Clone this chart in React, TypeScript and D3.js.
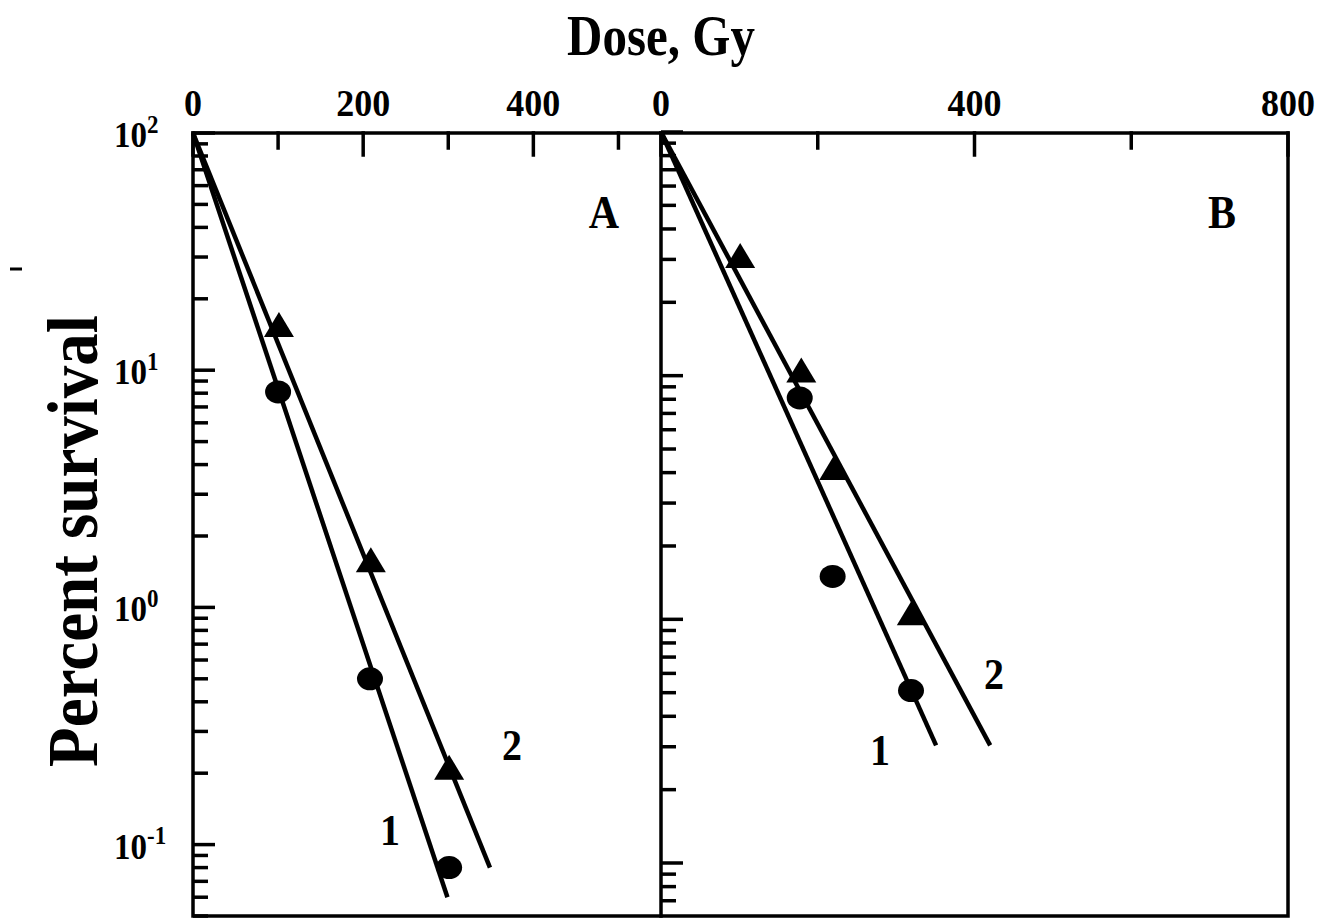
import React, { useRef, useEffect } from "react"
import * as d3 from "d3"

// panel A, curve 1 (circles) and curve 2 (triangles)
const doseA1 = [100, 208, 301]
const survA1 = [8.1, 0.5, 0.08]
const doseA2 = [101, 209, 301]
const survA2 = [15.2, 1.55, 0.207]
const fitDoseA1 = [0, 299]
const fitSurvA1 = [100, 0.06]
const fitDoseA2 = [0, 349]
const fitSurvA2 = [100, 0.08]

// panel B
const doseB1 = [177, 219, 319]
const survB1 = [8.1, 1.5, 0.51]
const doseB2 = [101, 179, 221, 320]
const survB2 = [30.4, 10.3, 4.1, 1.04]
const fitDoseB1 = [0, 351]
const fitSurvB1 = [100, 0.304]
const fitDoseB2 = [0, 420]
const fitSurvB2 = [100, 0.304]

const majorTicksA = [0, 200, 400]
const minorTicksA = [100, 300, 500]
const majorTicksB = [0, 400, 800]
const minorTicksB = [200, 600]
const decadeLabels = [2, 1, 0, -1]

const FONT = "'Liberation Serif', 'Times New Roman', serif"
const STRETCH = 1.12 // the original lettering is a bit taller than it is wide

const App = () => {
  const ref = useRef(null)
  const width = 1322
  const height = 921
  const top = 133
  const bottom = 916

  useEffect(() => {
    if (!ref.current) return
    const svg = d3.select(ref.current)
    svg.selectAll("*").remove()

    const xA = d3.scaleLinear().domain([0, 550]).range([193, 661])
    const xB = d3.scaleLinear().domain([0, 800]).range([661, 1288])
    const yA = d3.scaleLog().domain([0.05, 100]).range([bottom, top])
    const yB = d3.scaleLog().domain([0.0606, 100]).range([bottom, top - 1])

    const g = svg.append("g").attr("stroke-linecap", "square")

    const text = (x, y, s, size, anchor = "middle", stretch = STRETCH) =>
      svg.append("text")
        .attr("transform", `translate(${x},${y}) scale(1,${stretch})`)
        .attr("text-anchor", anchor).attr("font-family", FONT)
        .attr("font-weight", "bold").attr("font-size", size).text(s)

    // frame
    g.append("rect")
      .attr("x", xA(0)).attr("y", top)
      .attr("width", xB(800) - xA(0)).attr("height", bottom - top)
      .attr("fill", "none").attr("stroke", "#000").attr("stroke-width", 3.5)
    g.append("line")
      .attr("x1", xB(0)).attr("x2", xB(0)).attr("y1", top).attr("y2", bottom)
      .attr("stroke", "#000").attr("stroke-width", 3.5)

    // top ticks (inward)
    const topTicks = (x, major, minor) => {
      major.forEach(d => {
        g.append("line").attr("x1", x(d)).attr("x2", x(d))
          .attr("y1", top).attr("y2", top + 22)
          .attr("stroke", "#000").attr("stroke-width", 3.5)
      })
      minor.forEach(d => {
        g.append("line").attr("x1", x(d)).attr("x2", x(d))
          .attr("y1", top).attr("y2", top + 15)
          .attr("stroke", "#000").attr("stroke-width", 3.5)
      })
      major.forEach(d => text(x(d), 116, d, 36, "middle", 1.06))
    }
    topTicks(xA, majorTicksA, minorTicksA)
    topTicks(xB, majorTicksB, minorTicksB)

    // left log ticks (inward, to the right)
    const logTicks = (x0, y) => {
      const [lo, hi] = y.domain()
      y.ticks().filter(d => d >= lo && d <= hi).forEach(d => {
        const major = Math.abs(Math.log10(d) - Math.round(Math.log10(d))) < 1e-6
        g.append("line").attr("x1", x0).attr("x2", x0 + (major ? 22 : 15))
          .attr("y1", y(d)).attr("y2", y(d))
          .attr("stroke", "#000").attr("stroke-width", 3.5).attr("stroke-linecap", "butt")
      })
    }
    logTicks(xA(0), yA)
    logTicks(xB(0), yB)

    // decade labels
    decadeLabels.forEach(p => {
      const t = text(114, yA(Math.pow(10, p)) + 14, "", 33, "start", 1.1)
      t.append("tspan").text("10")
      t.append("tspan").attr("dy", -13).attr("font-size", 23).text(p)
    })

    // fit lines
    const drawFit = (x, y, doses, survs) => {
      const pts = doses.map((d, i) => [x(d), y(survs[i])])
      g.append("path").attr("d", d3.line()(pts))
        .attr("fill", "none").attr("stroke", "#000").attr("stroke-width", 4.5)
        .attr("stroke-linecap", "butt")
    }
    drawFit(xA, yA, fitDoseA1, fitSurvA1)
    drawFit(xA, yA, fitDoseA2, fitSurvA2)
    drawFit(xB, yB, fitDoseB1, fitSurvB1)
    drawFit(xB, yB, fitDoseB2, fitSurvB2)

    // markers
    const circles = (x, y, doses, survs) => {
      doses.forEach((d, i) => {
        svg.append("ellipse").attr("cx", x(d)).attr("cy", y(survs[i]))
          .attr("rx", 13).attr("ry", 11.5).attr("fill", "#000")
      })
    }
    const triangles = (x, y, doses, survs) => {
      doses.forEach((d, i) => {
        svg.append("path")
          .attr("transform", `translate(${x(d)},${y(survs[i])})`)
          .attr("d", "M0,-15L15,10L-15,10Z").attr("fill", "#000")
      })
    }
    circles(xA, yA, doseA1, survA1)
    triangles(xA, yA, doseA2, survA2)
    circles(xB, yB, doseB1, survB1)
    triangles(xB, yB, doseB2, survB2)

    // labels
    text(604, 228, "A", 42)
    text(1222, 228, "B", 42)
    text(390, 845, "1", 40)
    text(512, 760, "2", 40)
    text(880, 765, "1", 40)
    text(994, 689, "2", 40)
    text(661, 55, "Dose, Gy", 49, "middle", 1.15)

    svg.append("text")
      .attr("transform", "translate(97,541) rotate(-90) scale(1,1.12)")
      .attr("text-anchor", "middle").attr("font-family", FONT)
      .attr("font-weight", "bold").attr("font-size", 65).text("Percent survival")

    svg.append("line").attr("x1", 10).attr("x2", 22).attr("y1", 269).attr("y2", 269)
      .attr("stroke", "#000").attr("stroke-width", 3)
  }, [])

  return (
    <svg
      ref={ref}
      width={width}
      height={height}
      style={{ position: "absolute", left: 0, top: 0, background: "#fff" }}
    />
  )
}

export default App
